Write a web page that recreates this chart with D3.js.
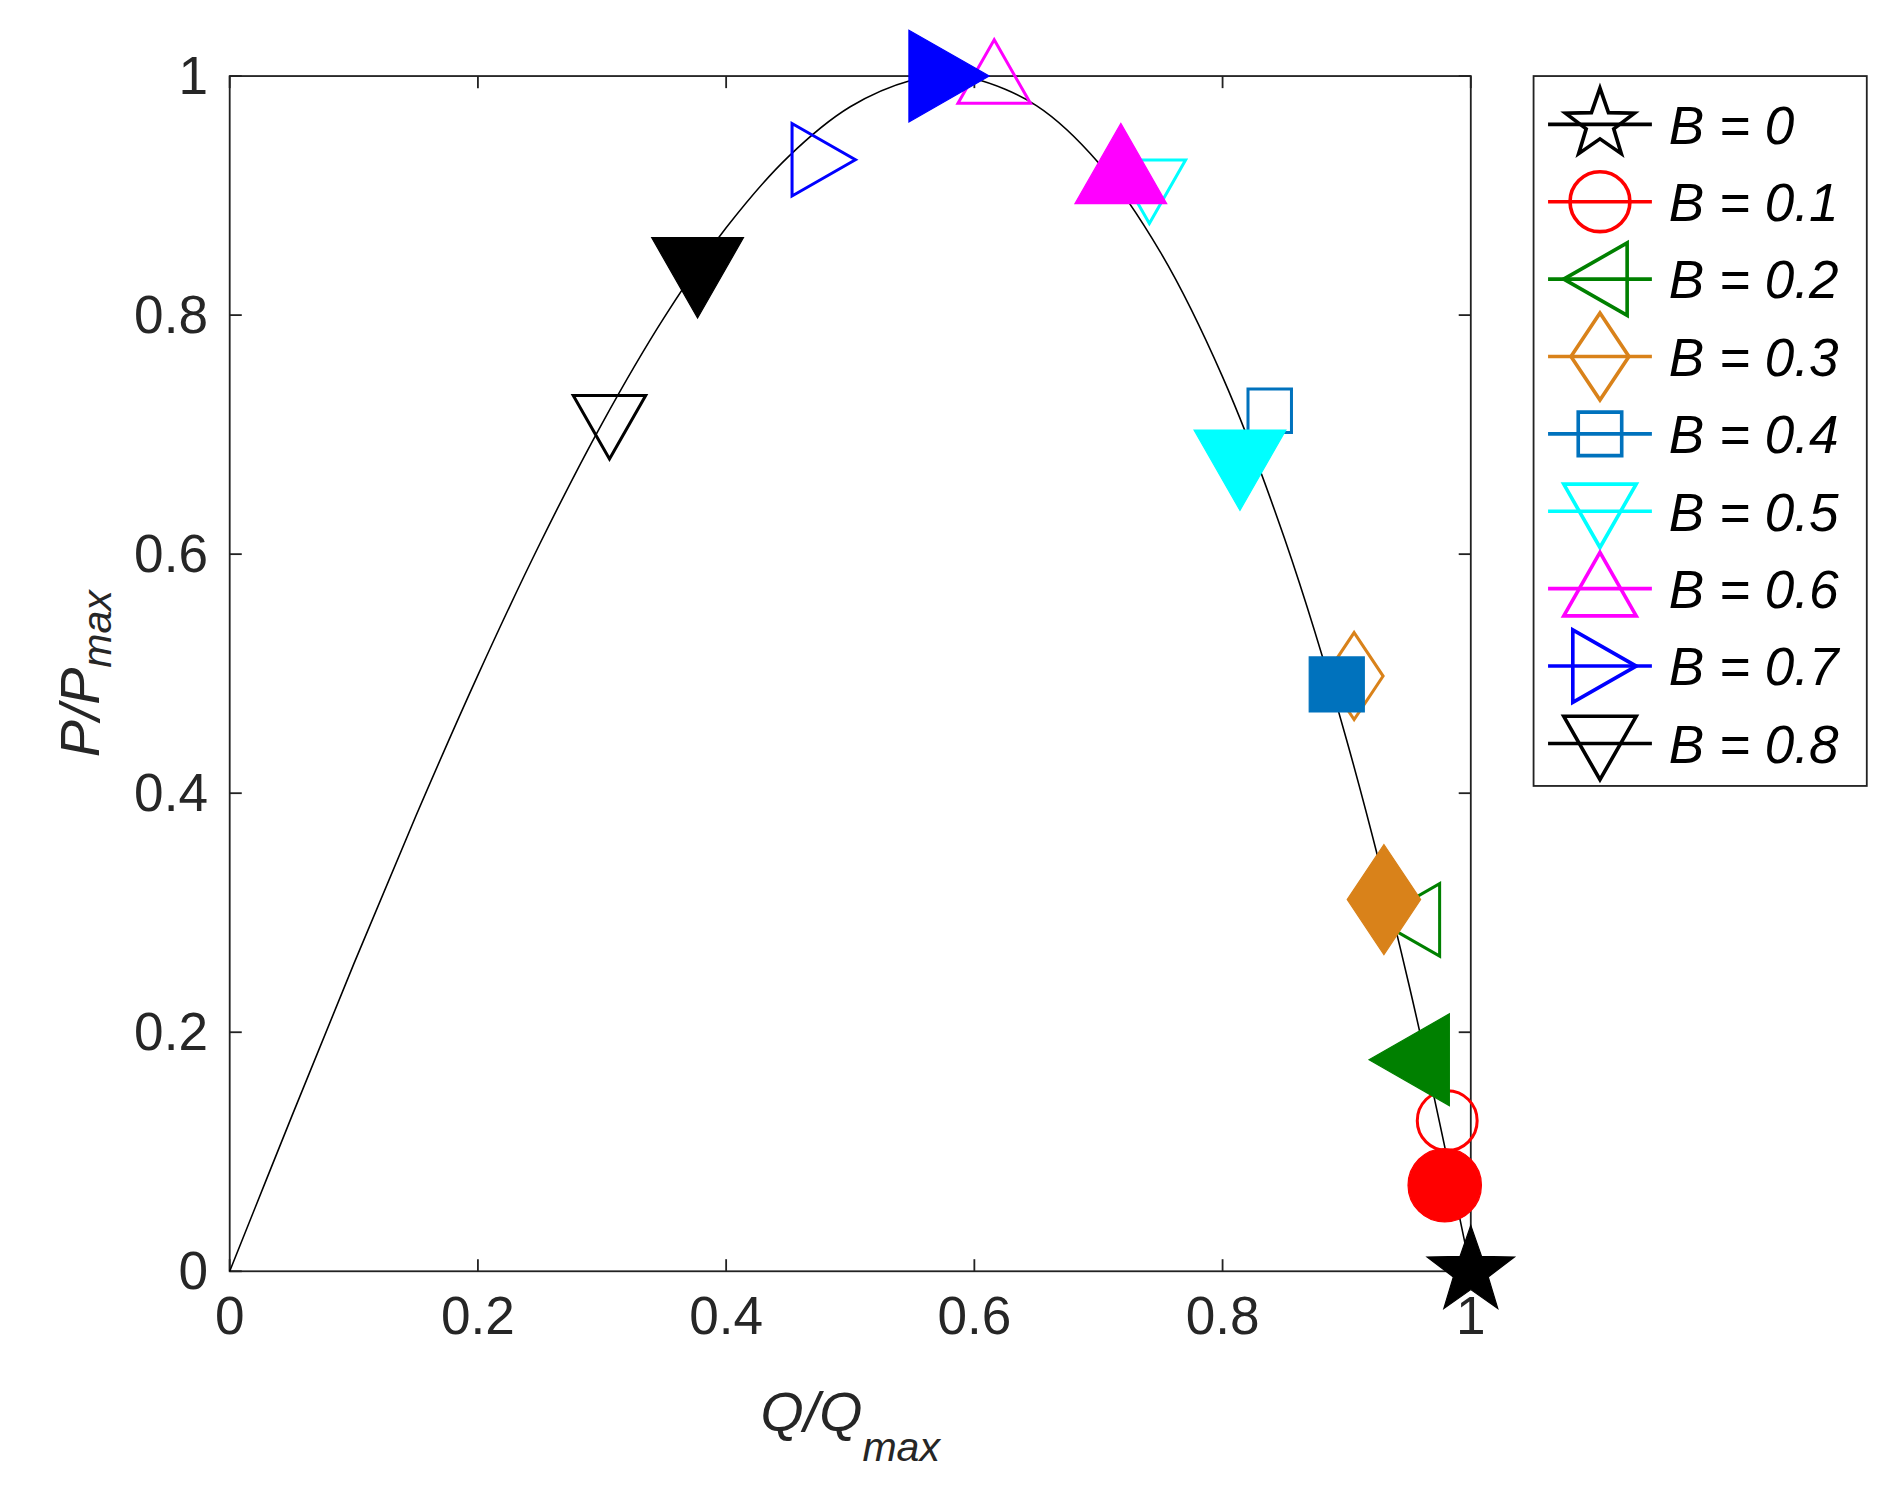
<!DOCTYPE html><html><head><meta charset="utf-8"><script src="https://cdn.jsdelivr.net/npm/d3@7"></script>
<style>body{margin:0;background:#fff}</style></head><body>
<svg id="c" width="1884" height="1491" viewBox="0 0 1560 1235"></svg>
<script>
const curveQ=[0,0.05,0.1,0.15,0.2,0.25,0.3,0.35,0.4,0.45,0.5,0.55,0.575,0.6,0.65,0.7,0.75,0.8,0.85,0.9,0.95,1];
const curveP=[0,0.1296,0.2572,0.3809,0.4988,0.6089,0.7093,0.7979,0.8730,0.9324,0.9743,0.9967,1.0,0.9977,0.9753,0.9275,0.8525,0.7483,0.6128,0.4443,0.2406,0];
const labels=["B = 0","B = 0.1","B = 0.2","B = 0.3","B = 0.4","B = 0.5","B = 0.6","B = 0.7","B = 0.8"];
const colors=["#000000","#FF0000","#008000","#D9821A","#0072BD","#00FFFF","#FF00FF","#0000FF","#000000"];
const shapes=["star","circle","left","diamond","square","down","up","right","down"];
const filledQ=[1,0.979,0.955,0.930,0.892,0.814,0.718,0.575,0.377];
const filledP=[0,0.072,0.177,0.311,0.491,0.675,0.922,1.0,0.836];
const openQ=[null,0.981,0.953,0.906,0.838,0.741,0.616,0.475,0.306];
const openP=[null,0.126,0.294,0.498,0.720,0.907,1.0,0.930,0.710];
const ticks=[0,0.2,0.4,0.6,0.8,1];

const svg=d3.select("#c");
const L=190,R=1218,T=63,B=1053;
const x=d3.scaleLinear().domain([0,1]).range([L,R]);
const y=d3.scaleLinear().domain([0,1]).range([B,T]);
const font="'Liberation Sans',Arial,sans-serif";
svg.append("rect").attr("x",L).attr("y",T).attr("width",R-L).attr("height",B-T).attr("fill","none").attr("stroke","#222").attr("stroke-width",1.5);
const tl=10;
ticks.forEach(t=>{
  [[x(t),B,x(t),B-tl],[x(t),T,x(t),T+tl],[L,y(t),L+tl,y(t)],[R,y(t),R-tl,y(t)]].forEach(a=>
    svg.append("line").attr("x1",a[0]).attr("y1",a[1]).attr("x2",a[2]).attr("y2",a[3]).attr("stroke","#222").attr("stroke-width",1.5));
  const lab=d3.format("~g")(t);
  svg.append("text").attr("x",x(t)).attr("y",B+52).attr("text-anchor","middle").attr("font-family",font).attr("font-size",44).attr("fill","#262626").text(lab);
  svg.append("text").attr("x",L-18).attr("y",y(t)+15).attr("text-anchor","end").attr("font-family",font).attr("font-size",44).attr("fill","#262626").text(lab);
});
const xl=svg.append("text").attr("x",(L+R)/2).attr("y",1185).attr("text-anchor","middle").attr("font-family",font).attr("font-size",46).attr("font-style","italic").attr("fill","#262626");
xl.append("tspan").text("Q/Q");xl.append("tspan").attr("font-size",34).attr("dy",25).text("max");
const yl=svg.append("text").attr("transform",`translate(82,${(T+B)/2}) rotate(-90)`).attr("text-anchor","middle").attr("font-family",font).attr("font-size",46).attr("font-style","italic").attr("fill","#262626");
yl.append("tspan").text("P/P");yl.append("tspan").attr("font-size",34).attr("dy",10).text("max");

const line=d3.line().x(d=>x(d[0])).y(d=>y(d[1])).curve(d3.curveCatmullRom);
svg.append("path").attr("d",line(curveQ.map((q,i)=>[q,curveP[i]]))).attr("fill","none").attr("stroke","#000").attr("stroke-width",1.3);

function shapePath(s,k){
  if(s==="up")return `M0,${-k}L${k},${0.75*k}L${-k},${0.75*k}Z`;
  if(s==="down")return `M0,${k}L${k},${-0.75*k}L${-k},${-0.75*k}Z`;
  if(s==="right")return `M${k},0L${-0.75*k},${k}L${-0.75*k},${-k}Z`;
  if(s==="left")return `M${-k},0L${0.75*k},${k}L${0.75*k},${-k}Z`;
  if(s==="diamond")return `M0,${-1.2*k}L${0.8*k},0L0,${1.2*k}L${-0.8*k},0Z`;
  if(s==="square"){const h=0.6*k;return `M${-h},${-h}H${h}V${h}H${-h}Z`;}
  if(s==="circle")return d3.symbol(d3.symbolCircle,Math.PI*(0.8*k)**2)();
  if(s==="star"){let p="";for(let i=0;i<10;i++){const r=i%2?0.4*k:k,a=-Math.PI/2+i*Math.PI/5;p+=(i?"L":"M")+r*Math.cos(a)+","+r*Math.sin(a);}return p+"Z";}
}
for(let i=0;i<9;i++){
  if(openQ[i]!==null)svg.append("path").attr("d",shapePath(shapes[i],shapes[i]==="circle"?31:30)).attr("transform",`translate(${x(openQ[i])},${y(openP[i])})`).attr("fill","none").attr("stroke",colors[i]).attr("stroke-width",2.5);
}
for(let i=0;i<9;i++){
  svg.append("path").attr("d",shapePath(shapes[i],shapes[i]==="circle"?38:38)).attr("transform",`translate(${x(filledQ[i])},${y(filledP[i])})`).attr("fill",colors[i]).attr("stroke",colors[i]).attr("stroke-width",1);
}
// legend
svg.append("rect").attr("x",1270).attr("y",63).attr("width",276).attr("height",588).attr("fill","#fff").attr("stroke","#222").attr("stroke-width",1.5);
labels.forEach((lab,i)=>{
  const yy=103+i*64.1;
  svg.append("line").attr("x1",1282).attr("x2",1368).attr("y1",yy).attr("y2",yy).attr("stroke",colors[i]).attr("stroke-width",3);
  svg.append("path").attr("d",shapePath(shapes[i],shapes[i]==="circle"?31:30)).attr("transform",`translate(1325,${yy})`).attr("fill","none").attr("stroke",colors[i]).attr("stroke-width",3);
  svg.append("text").attr("x",1382).attr("y",yy+16).attr("font-family",font).attr("font-size",44).attr("font-style","italic").attr("fill","#000").text(lab);
});
</script></body></html>
